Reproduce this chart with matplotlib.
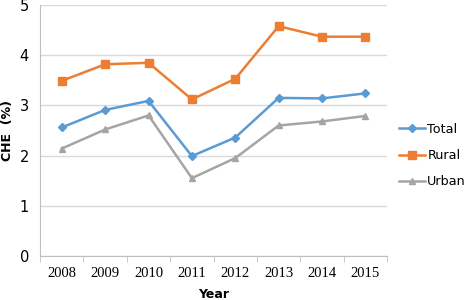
import numpy as np
import matplotlib.pyplot as plt

years = ['2008', '2009', '2010', '2011', '2012', '2013', '2014', '2015']
total = [2.56, 2.91, 3.09, 1.99, 2.36, 3.15, 3.14, 3.24]
rural = [3.49, 3.82, 3.85, 3.12, 3.53, 4.58, 4.37, 4.37]
urban = [2.14, 2.52, 2.80, 1.55, 1.95, 2.60, 2.68, 2.79]

fig = plt.figure(figsize=(4.72, 3.0), dpi=100)
ax = fig.add_axes([0.085, 0.147, 0.735, 0.836])

x = np.arange(len(years))
ax.plot(x, total, color='#5B9BD5', marker='D', markersize=4, lw=1.8, label='Total')
ax.plot(x, rural, color='#ED7D31', marker='s', markersize=6, lw=1.8, label='Rural')
ax.plot(x, urban, color='#A5A5A5', marker='^', markersize=5, lw=1.8, label='Urban')

ax.set_xlim(-0.5, len(years) - 0.5)
ax.set_ylim(0, 5)
ax.set_yticks(range(6))
ax.yaxis.grid(True, color='#D9D9D9', lw=1)
ax.set_axisbelow(True)
ax.set_xticks(x)
ax.set_xticklabels(years, family='Liberation Serif', fontsize=10.5)
ax.set_xticks(np.arange(-0.5, len(years)), minor=True)
ax.tick_params(axis='x', which='major', length=0, pad=8)
ax.tick_params(axis='x', which='minor', length=4, color='#BFBFBF', direction='out')
ax.tick_params(axis='y', length=0, labelsize=10.5, pad=8)

for s in ['top', 'right']:
    ax.spines[s].set_visible(False)
for s in ['left', 'bottom']:
    ax.spines[s].set_color('#BFBFBF')

ax.set_xlabel('Year', fontweight='bold', fontsize=9, labelpad=6)
ax.set_ylabel('CHE  (%)', fontweight='bold', fontsize=9, labelpad=4)

ax.legend(loc='center left', bbox_to_anchor=(1.035, 0.40), frameon=False,
          borderpad=0, borderaxespad=0, fontsize=9.2, handlelength=2.0,
          labelspacing=1.05, handletextpad=0.2)

fig.savefig('out.png', dpi=100)
